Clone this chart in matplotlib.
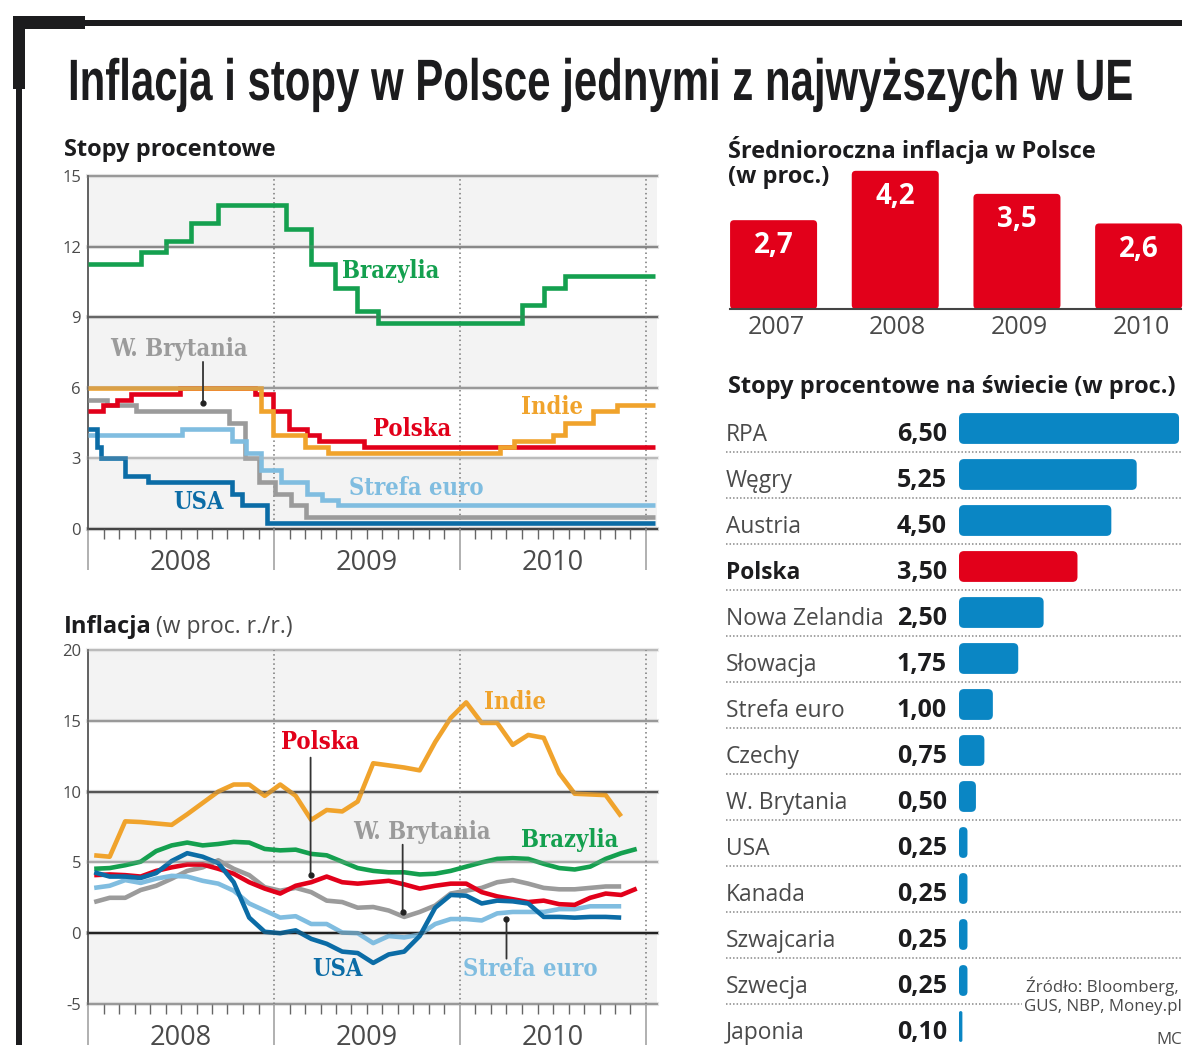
import numpy as np
import matplotlib
matplotlib.use("Agg")
import matplotlib.pyplot as plt
from matplotlib.patches import FancyBboxPatch, Rectangle
from matplotlib.patheffects import AbstractPathEffect
from matplotlib.transforms import Affine2D

W, H = 1200, 1063
PX_PER_MONTH = 15.5

GREEN = "#14a04f"
RED = "#e2001a"
ORANGE = "#f0a32c"
GRAY = "#9b9b9b"
LIGHT_BLUE = "#80bde0"
DARK_BLUE = "#0b6ca6"
BAR_BLUE = "#0a86c4"
TEXT = "#1c1c1e"
SOFT_TEXT = "#4a4a4a"
BAND = "#f3f3f3"

SANS = "Open Sans"
SLAB = "DejaVu Serif"

# stopy procentowe - miesiac zmiany i poziom stopy
brazil_months = [0, 3.44, 5.05, 6.66, 8.37, 12.75, 14.36, 15.94, 17.37, 18.7, 28.0, 29.4, 30.8, 36.6]
brazil_rates = [11.25, 11.75, 12.25, 13.0, 13.75, 12.75, 11.25, 10.25, 9.25, 8.75, 9.5, 10.25, 10.75, 10.75]
india_months = [0, 11.17, 11.94, 14.0, 15.5, 26.6, 27.5, 30.0, 30.8, 32.6, 34.1, 36.6]
india_rates = [6.0, 5.0, 4.0, 3.5, 3.25, 3.5, 3.75, 4.0, 4.5, 5.0, 5.25, 5.25]
poland_months = [0, 0.97, 1.86, 2.8, 5.94, 10.8, 11.94, 12.96, 14.1, 14.9, 17.8, 36.6]
poland_rates = [5.0, 5.25, 5.5, 5.75, 6.0, 5.75, 5.0, 4.25, 4.0, 3.75, 3.5, 3.5]
uk_months = [0, 1.2, 3.1, 9.1, 10.15, 11.05, 12.07, 13.1, 14.05, 36.6]
uk_rates = [5.5, 5.25, 5.0, 4.5, 3.0, 2.0, 1.5, 1.0, 0.5, 0.5]
euro_months = [0, 6.07, 9.3, 10.2, 11.17, 12.45, 14.1, 15.1, 16.15, 36.6]
euro_rates = [4.0, 4.25, 3.75, 3.25, 2.5, 2.0, 1.5, 1.25, 1.0, 1.0]
usa_months = [0, 0.6, 0.85, 2.37, 3.9, 9.26, 9.95, 11.56, 36.6]
usa_rates = [4.25, 3.5, 3.0, 2.25, 2.0, 1.5, 1.0, 0.25, 0.25]

# inflacja r/r - wartosci miesieczne
india_cpi = [5.5, 5.4, 7.9, 7.85, 7.75, 7.65, 8.4, 9.2, 10.0, 10.5, 10.5, 9.7, 10.5, 9.7, 8.0, 8.7, 8.6, 9.3,
             12.0, 11.85, 11.7, 11.5, 13.5, 15.2, 16.3, 14.85, 14.85, 13.3, 14.0, 13.8, 11.3, 9.85, 9.8, 9.75, 8.25]
brazil_cpi = [4.55, 4.6, 4.8, 5.05, 5.8, 6.2, 6.4, 6.2, 6.3, 6.45, 6.4, 5.95, 5.85, 5.9, 5.6, 5.5, 5.05, 4.6,
              4.4, 4.3, 4.3, 4.15, 4.2, 4.4, 4.7, 5.0, 5.25, 5.3, 5.25, 4.9, 4.6, 4.5, 4.7, 5.25, 5.65, 5.95]
poland_cpi = [4.1, 4.15, 4.1, 4.0, 4.4, 4.65, 4.85, 4.85, 4.55, 4.2, 3.6, 3.15, 2.8, 3.35, 3.6, 4.0, 3.6, 3.5,
              3.6, 3.7, 3.45, 3.15, 3.35, 3.5, 3.5, 2.9, 2.6, 2.4, 2.2, 2.3, 2.05, 2.0, 2.5, 2.8, 2.7, 3.15]
uk_cpi = [2.2, 2.5, 2.5, 3.05, 3.35, 3.85, 4.4, 4.65, 5.15, 4.55, 4.1, 3.25, 3.0, 3.2, 2.9, 2.3, 2.2, 1.8,
          1.85, 1.6, 1.15, 1.5, 1.95, 2.8, 3.0, 3.2, 3.6, 3.75, 3.5, 3.2, 3.1, 3.1, 3.2, 3.3, 3.3]
euro_cpi = [3.2, 3.35, 3.75, 3.55, 3.85, 4.05, 4.0, 3.7, 3.5, 3.0, 2.1, 1.6, 1.1, 1.2, 0.65, 0.65, 0.05, 0.0,
            -0.7, -0.2, -0.3, -0.1, 0.65, 1.0, 1.0, 0.9, 1.4, 1.5, 1.5, 1.5, 1.7, 1.7, 1.9, 1.9, 1.9]
usa_cpi = [4.3, 4.0, 4.0, 3.9, 4.25, 5.1, 5.65, 5.4, 4.95, 3.6, 1.1, 0.1, 0.0, 0.2, -0.4, -0.75, -1.3, -1.4,
           -2.1, -1.5, -1.3, -0.2, 1.8, 2.7, 2.65, 2.1, 2.3, 2.25, 2.1, 1.15, 1.15, 1.1, 1.15, 1.15, 1.1]

avg_years = ["2007", "2008", "2009", "2010"]
avg_inflation = [2.7, 4.2, 3.5, 2.6]

countries = ["RPA", "Węgry", "Austria", "Polska", "Nowa Zelandia", "Słowacja", "Strefa euro", "Czechy",
             "W. Brytania", "USA", "Kanada", "Szwajcaria", "Szwecja", "Japonia"]
world_rates = [6.50, 5.25, 4.50, 3.50, 2.50, 1.75, 1.00, 0.75, 0.50, 0.25, 0.25, 0.25, 0.25, 0.10]

year_labels = ["2008", "2009", "2010"]


# brak waskiego fontu - mniejszy stopien i rozciagniete glify w pionie, tekst zostaje tekstem
class StretchY(AbstractPathEffect):
    def __init__(self, y0, factor):
        super().__init__()
        self.stretch = Affine2D().translate(0, -y0).scale(1, factor).translate(0, y0)

    def draw_path(self, renderer, gc, tpath, affine, rgbFace=None):
        renderer.draw_path(gc, tpath, affine + self.stretch, rgbFace)


def px_axes(left, top, right, bottom):
    return fig.add_axes([left / W, 1 - bottom / H, (right - left) / W, (bottom - top) / H])


def rounded_bar(ax, x, y, width, height, radius, aspect, color):
    box = FancyBboxPatch((x, y), width, height, boxstyle=f"round,pad=0,rounding_size={radius}",
                         mutation_aspect=aspect, facecolor=color, edgecolor="none")
    ax.add_patch(box)


def setup_time_axis(ax, ymin, ymax, ystep, line_colors):
    ax.set_xlim(0, (657 - 88) / PX_PER_MONTH)
    ax.set_ylim(ymin, ymax)
    ax.set_facecolor("white")
    levels = np.arange(ymin, ymax + ystep, ystep)
    for low, high in zip(levels[-2::-2], levels[-1::-2]):
        ax.axhspan(low, high, color=BAND, lw=0, zorder=0)
    for level, col in zip(levels, line_colors):
        ax.axhline(level, color=col, lw=1.5, zorder=1, clip_on=False)
        ax.axhline(level, color=col, lw=3, alpha=0.25, zorder=6, clip_on=False)
    for m in [12, 24, 36]:
        ax.axvline(m, color="#777777", lw=1.1, ls=(0, (1, 2)), zorder=1.5)
    for side in ["top", "right", "bottom"]:
        ax.spines[side].set_visible(False)
    ax.spines["left"].set_color("#555555")
    ax.spines["left"].set_linewidth(1.3)
    ax.set_yticks(levels)
    ax.set_yticklabels([str(v) for v in levels], family=SANS)
    ax.tick_params(axis="y", length=0, pad=5, labelsize=12, labelcolor=SOFT_TEXT)
    ax.set_xticks([0, 12, 24, 36])
    ax.set_xticks(np.arange(0, 37), minor=True)
    ax.set_xticklabels([])
    ax.tick_params(axis="x", which="major", length=29.5, width=1.3, color="#aaaaaa")
    ax.tick_params(axis="x", which="minor", length=7, width=1, color="#666666")
    ax.get_xticklines()[0].set_color("#555555")
    trans = ax.get_xaxis_transform()
    for m, lab in zip([6, 18, 30], year_labels):
        ax.text(m, -34 / 353, lab, transform=trans, ha="center", va="center",
                fontsize=19.5, family=SANS, color=SOFT_TEXT)


def pointer(ax, x, y_start, y_end):
    ax.annotate("", xy=(x, y_end), xytext=(x, y_start), zorder=8,
                arrowprops=dict(arrowstyle="-", color="#333333", lw=1.3, shrinkA=0, shrinkB=0))
    ax.plot([x], [y_end], "o", ms=3.5, color="#222222", zorder=8)


fig = plt.figure(figsize=(W / 100, H / 100), dpi=100, facecolor="white")

# ---------- stopy procentowe ----------
ax1 = px_axes(88, 176, 657, 529)
setup_time_axis(ax1, 0, 15, 3, ["#444444", "#bbbbbb", "#999999", "#666666", "#888888", "#999999"])
rate_lines = [
    (brazil_months, brazil_rates, GREEN),
    (uk_months, uk_rates, GRAY),
    (euro_months, euro_rates, LIGHT_BLUE),
    (usa_months, usa_rates, DARK_BLUE),
    (poland_months, poland_rates, RED),
    (india_months, india_rates, ORANGE),
]
for xs, ys, col in rate_lines:
    ax1.step(xs, ys, where="post", color=col, lw=3.3, solid_joinstyle="miter", solid_capstyle="butt",
             zorder=3, clip_on=False)
pointer(ax1, 7.42, 7.1, 5.35)

# ---------- inflacja ----------
ax2 = px_axes(88, 650, 657, 1004)
setup_time_axis(ax2, -5, 20, 5, ["#999999", "#222222", "#aaaaaa", "#555555", "#999999", "#bbbbbb"])
cpi_lines = [
    (uk_cpi, GRAY),
    (euro_cpi, LIGHT_BLUE),
    (brazil_cpi, GREEN),
    (india_cpi, ORANGE),
    (poland_cpi, RED),
    (usa_cpi, DARK_BLUE),
]
for ys, col in cpi_lines:
    ax2.plot(np.arange(len(ys)) + 0.4, ys, color=col, lw=3.3, solid_joinstyle="round",
             solid_capstyle="butt", zorder=3)
pointer(ax2, 14.36, 12.4, 4.1)
pointer(ax2, 20.3, 6.25, 1.5)
pointer(ax2, 27.0, -1.8, 1.0)

# ---------- srednioroczna inflacja ----------
ax3 = px_axes(728, 165, 1183, 309)
ax3.set_xlim(-0.374, 3.365)
ax3.set_ylim(0, 144 / 32.9)
ax3.axis("off")
ax3.axhline(0, xmin=0.005, xmax=0.995, color="#444444", lw=1.5, clip_on=False)
for i, v in enumerate(avg_inflation):
    rounded_bar(ax3, i - 0.357, 0, 0.715, v, 4 / 121.7, 121.7 / 32.9, RED)
    ax3.text(i, v - 0.78, f"{v:.1f}".replace(".", ","), ha="center", va="center", color="white",
             fontsize=20, fontweight="bold", family=SANS)
    ax3.text(i + 0.02, -19 / 32.9, avg_years[i], ha="center", va="center", color=SOFT_TEXT,
             fontsize=18, family=SANS)

# ---------- stopy na swiecie ----------
ax4 = px_axes(959, 405.5, 1183, 1049.5)
ax4.set_xlim(0, 224 / 33.85)
ax4.set_ylim(13.5, -0.5)
ax4.axis("off")
for i, (name, v) in enumerate(zip(countries, world_rates)):
    col = RED if name == "Polska" else BAR_BLUE
    rounded_bar(ax4, 0, i - 0.335, v, 0.67, min(5 / 33.85, v / 2), 33.85 / 46, col)
    ax4.text(-6.88, i + 0.14, name, ha="left", va="center", fontsize=16.4, family=SANS, clip_on=False,
             color=TEXT if name == "Polska" else SOFT_TEXT,
             fontweight="bold" if name == "Polska" else "normal")
    ax4.text(-0.355, i + 0.14, f"{v:.2f}".replace(".", ","), ha="right", va="center", fontsize=18,
             fontweight="bold", family=SANS, color=TEXT, clip_on=False)
    if i < len(countries) - 1:
        right_end = (1022 - 959) / 33.85 if i == 12 else 223 / 33.85
        ax4.plot([-6.88, right_end], [i + 0.5, i + 0.5], color="#888888", lw=1.1, ls=(0, (1, 1.3)),
                 clip_on=False, zorder=1)

# ---------- tytul, ramka, opisy ----------
page = fig.add_axes([0, 0, 1, 1])
page.set_xlim(0, W)
page.set_ylim(H, 0)
page.axis("off")
page.patch.set_alpha(0)

page.add_patch(Rectangle((13, 16), 72, 13, color=TEXT, lw=0))
page.add_patch(Rectangle((13, 16), 12, 73, color=TEXT, lw=0))
page.add_patch(Rectangle((85, 20), 1097, 6, color=TEXT, lw=0))
page.add_patch(Rectangle((16, 89), 6, 956, color=TEXT, lw=0))

title = page.text(68, 100, "Inflacja i stopy w Polsce jednymi z najwyższych w UE", ha="left", va="baseline",
                  fontsize=30.2, fontweight="bold", family="Liberation Sans", color=TEXT)
title.set_path_effects([StretchY(H - 100, 42 / 30.2)])

headers = [
    (64, 150, "Stopy procentowe"),
    (64, 627, "Inflacja"),
    (728, 150, "Średnioroczna inflacja w Polsce"),
    (728, 177, "(w proc.)"),
    (728, 387, "Stopy procentowe na świecie (w proc.)"),
]
for x, y, s in headers:
    page.text(x, y, s, ha="left", va="center", fontsize=17, fontweight="bold", family=SANS, color=TEXT)
page.text(156, 627, "(w proc. r./r.)", ha="left", va="center", fontsize=16.5, family=SANS, color=SOFT_TEXT)

line_labels = [
    (391, 271, "Brazylia", GREEN),
    (179, 349, "W. Brytania", GRAY),
    (552, 407, "Indie", ORANGE),
    (412, 429, "Polska", RED),
    (416, 488, "Strefa euro", LIGHT_BLUE),
    (198, 502, "USA", DARK_BLUE),
    (515, 702, "Indie", ORANGE),
    (320, 742, "Polska", RED),
    (422, 832, "W. Brytania", GRAY),
    (570, 840, "Brazylia", GREEN),
    (337, 969, "USA", DARK_BLUE),
    (530, 969, "Strefa euro", LIGHT_BLUE),
]
for x, y, s, col in line_labels:
    page.text(x, y, s, ha="center", va="center", fontsize=17, fontweight="bold", family=SLAB,
              stretch="condensed", color=col)

page.text(1179, 986, "Źródło: Bloomberg,", ha="right", va="center", fontsize=12.2, family=SANS, color=SOFT_TEXT)
page.text(1182, 1007, "GUS, NBP, Money.pl", ha="right", va="center", fontsize=12.2, family=SANS, color=SOFT_TEXT)
page.text(1182, 1040, "MC", ha="right", va="center", fontsize=12.2, family=SANS, color=SOFT_TEXT)

fig.savefig("out.png", dpi=100)
